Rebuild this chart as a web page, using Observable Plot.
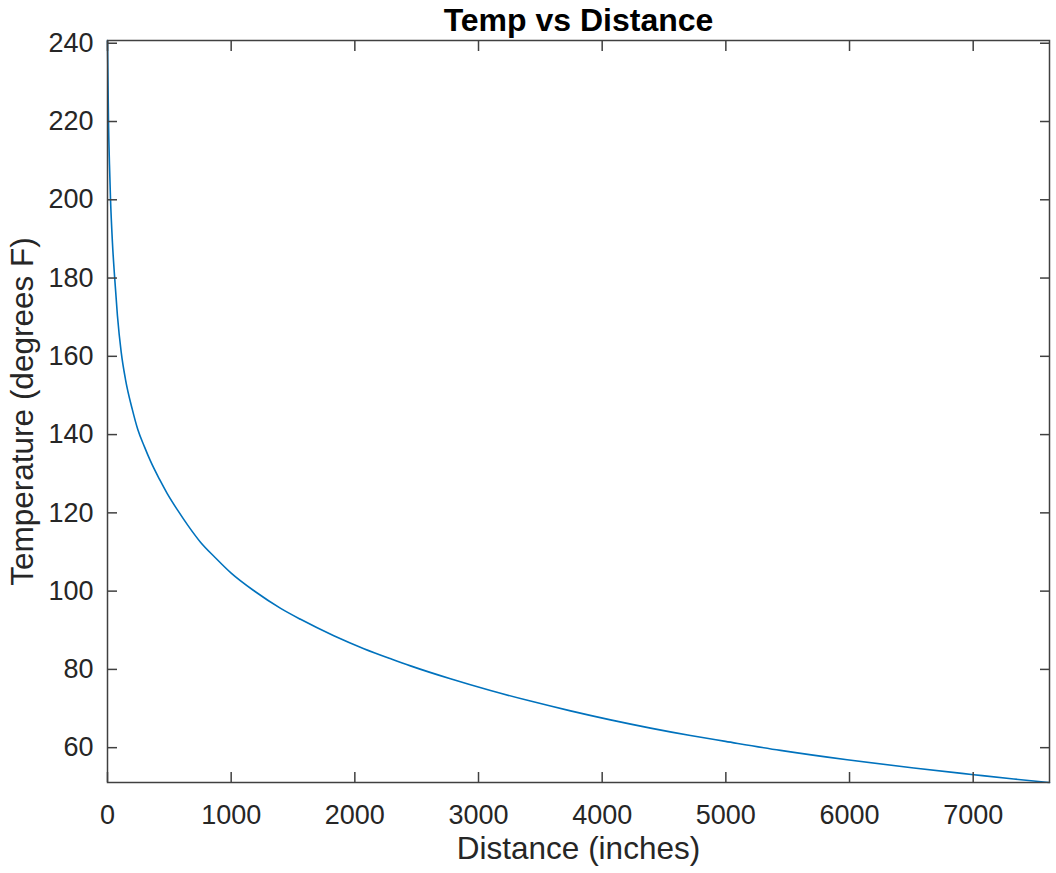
<!DOCTYPE html>
<html>
<head>
<meta charset="utf-8">
<script src="https://cdn.jsdelivr.net/npm/d3@7"></script>
<script src="https://cdn.jsdelivr.net/npm/@observablehq/plot@0.6"></script>
<style>
  html, body { margin: 0; padding: 0; background: #fff; }
</style>
</head>
<body>
<div id="chart"></div>
<script>
// Distance (inches) and temperature (degrees F)
const distance = [0, 8, 16, 24, 40, 57, 80, 111, 146, 200, 245, 300, 348, 420, 482, 571, 650, 752, 870, 1000,
  1193, 1400, 1561, 1830, 2073, 2300, 2450, 2773, 3097, 3420, 3744, 4067, 4391, 4714, 4997, 5442, 5981, 6520, 7005, 7328, 7617];
const temperature = [240.7, 220, 209, 200.5, 189, 180.5, 170.5, 161, 154, 146.5, 141.3, 136.8, 133.2, 128.6, 125, 120.5, 116.8, 112.5, 108.6, 104.6,
  99.9, 95.6, 92.8, 88.6, 85.3, 82.6, 80.9, 77.6, 74.6, 71.9, 69.4, 67.1, 65.0, 63.1, 61.6, 59.3, 56.9, 54.8, 53.1, 52.0, 51.1];

const xTicks = [0, 1000, 2000, 3000, 4000, 5000, 6000, 7000];
const yTicks = [60, 80, 100, 120, 140, 160, 180, 200, 220, 240];
const xDomain = [0, 7617];
const yDomain = [51.1, 240.7];

const titleText = "Temp vs Distance";
const xLabel = "Distance (inches)";
const yLabel = "Temperature (degrees F)";

const data = distance.map((d, i) => ({distance: d, temperature: temperature[i]}));

const axisColor = "#404040";
const textColor = "#262626";
const fmt = d => String(d);

const chart = Plot.plot({
  width: 1056,
  height: 873,
  marginLeft: 107,
  marginRight: 7,
  marginTop: 40,
  marginBottom: 91,
  style: {fontFamily: "'Liberation Sans', Arial, sans-serif", fontSize: "27px", color: textColor, background: "#fff"},
  x: {domain: xDomain, label: null},
  y: {domain: yDomain, label: null},
  marks: [
    Plot.line(data, {x: "distance", y: "temperature", stroke: "#0072BD", strokeWidth: 1.6, curve: "monotone-x"}),
    Plot.frame({stroke: axisColor, strokeWidth: 1.5}),
    Plot.axisX(xTicks, {anchor: "bottom", tickSize: 0, tickPadding: 22, fontSize: 27, fill: textColor, tickFormat: fmt, label: null}),
    Plot.axisX(xTicks, {anchor: "bottom", tickSize: -10, tickFormat: () => "", stroke: axisColor, strokeWidth: 1.5, label: null}),
    Plot.axisX(xTicks, {anchor: "top", tickSize: -10, tickFormat: () => "", stroke: axisColor, strokeWidth: 1.5, label: null}),
    Plot.axisY(yTicks, {anchor: "left", tickSize: 0, tickPadding: 14, fontSize: 27, fill: textColor, tickFormat: fmt, label: null}),
    Plot.axisY(yTicks, {anchor: "left", tickSize: -10, tickFormat: () => "", stroke: axisColor, strokeWidth: 1.5, label: null}),
    Plot.axisY(yTicks, {anchor: "right", tickSize: -10, tickFormat: () => "", stroke: axisColor, strokeWidth: 1.5, label: null}),
    Plot.text([titleText], {frameAnchor: "top", textAnchor: "middle", lineAnchor: "bottom", dy: -10, fontSize: 32, fontWeight: "bold", fill: "#000"}),
    Plot.text([xLabel], {frameAnchor: "bottom", textAnchor: "middle", dy: 76, fontSize: 31.5, fill: textColor}),
    Plot.text([yLabel], {frameAnchor: "left", textAnchor: "middle", dx: -85, rotate: -90, fontSize: 31.5, fill: textColor})
  ]
});
document.getElementById("chart").appendChild(chart);
</script>
</body>
</html>
